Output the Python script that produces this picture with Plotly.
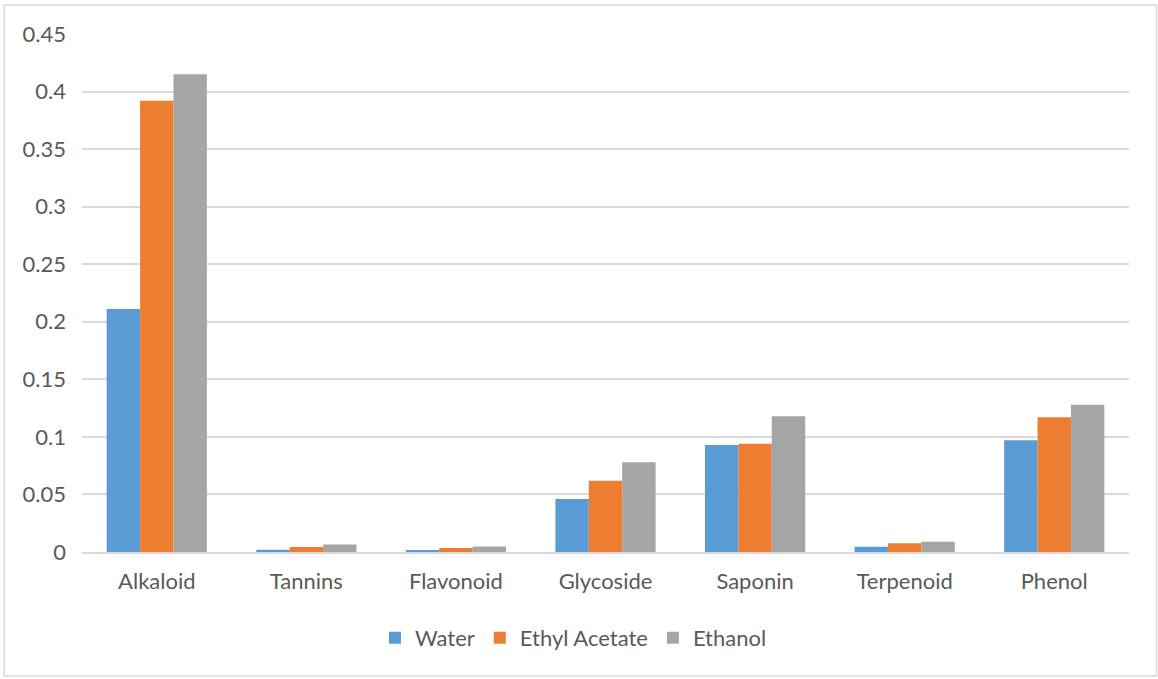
import plotly.graph_objects as go

categories = ["Alkaloid", "Tannins", "Flavonoid", "Glycoside", "Saponin", "Terpenoid", "Phenol"]
water = [0.211, 0.002, 0.0013, 0.046, 0.093, 0.0046, 0.097]
ethyl_acetate = [0.392, 0.0043, 0.0034, 0.062, 0.094, 0.0075, 0.117]
ethanol = [0.415, 0.0066, 0.0048, 0.078, 0.118, 0.0088, 0.128]
y_ticks = [0, 0.05, 0.1, 0.15, 0.2, 0.25, 0.3, 0.35, 0.4, 0.45]
y_tick_text = ["0", "0.05", "0.1", "0.15", "0.2", "0.25", "0.3", "0.35", "0.4", "0.45"]

series = [
    ("Water", water, "#5B9BD5"),
    ("Ethyl Acetate", ethyl_acetate, "#ED7D31"),
    ("Ethanol", ethanol, "#A5A5A5"),
]

W, H = 1158, 679
ml, mr, mt, mb = 82.3, 29, 33.5, 127
pw, ph = W - ml - mr, H - mt - mb

fig = go.Figure()
for name, vals, color in series:
    fig.add_trace(go.Bar(x=categories, y=vals, name=name, marker=dict(color=color, line=dict(width=0))))

font_color = "#595959"
fig.update_layout(
    width=W, height=H,
    margin=dict(l=ml, r=mr, t=mt, b=mb, pad=0),
    paper_bgcolor="white", plot_bgcolor="white",
    barmode="group", bargap=0.33, bargroupgap=0,
    font=dict(family="Lato, Carlito, sans-serif", size=22, color=font_color),
    legend=dict(orientation="h", x=0.5 - 32 / pw, xanchor="center", y=(552 - 638) / ph, yanchor="middle",
                font=dict(size=22, color=font_color), itemsizing="constant", tracegroupgap=0),
    xaxis=dict(showline=True, linecolor="#D9D9D9", linewidth=1.5, ticks="", showgrid=False,
               ticklabelstandoff=9),
    yaxis=dict(range=[0, 0.45], tickvals=y_ticks, ticktext=y_tick_text, showgrid=True,
               gridcolor="#D9D9D9", gridwidth=1.5, zeroline=False, showline=False,
               ticks="", ticklabelstandoff=15),
    shapes=[dict(type="rect", xref="paper", yref="paper",
                 x0=(4.5 - ml) / pw, x1=(1156.5 - ml) / pw,
                 y0=(552 - 676) / ph, y1=(552 - 4.5) / ph,
                 line=dict(color="#D9D9D9", width=1.5), fillcolor="rgba(0,0,0,0)", layer="below")],
)

fig.write_html("out.html")
